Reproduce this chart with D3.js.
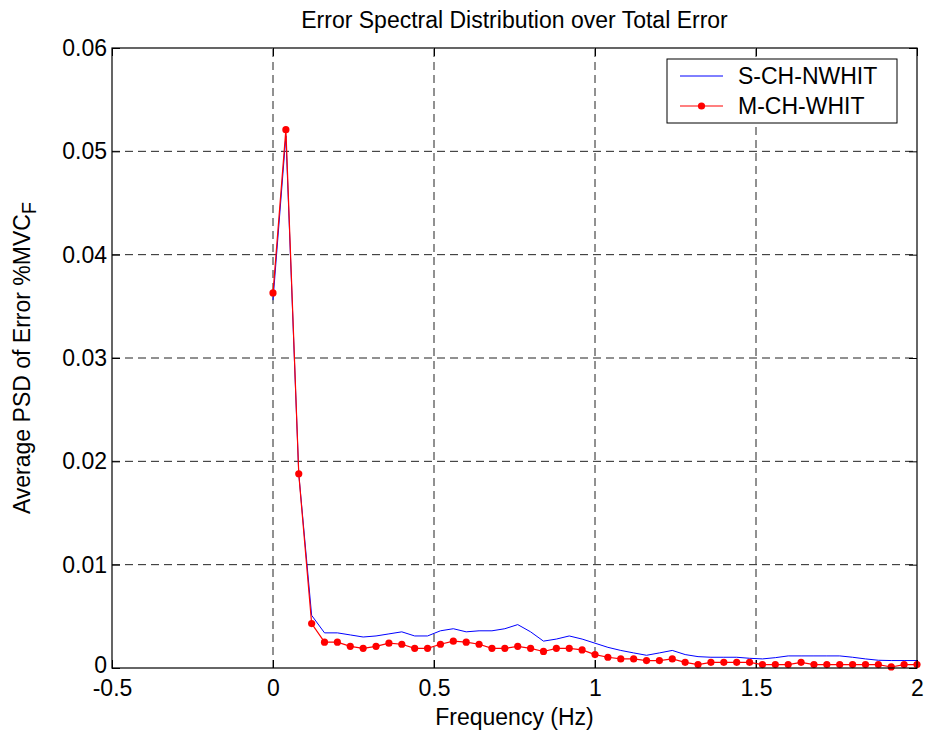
<!DOCTYPE html>
<html>
<head>
<meta charset="utf-8">
<script src="https://cdn.jsdelivr.net/npm/d3@7"></script>
<style>
  html, body { margin: 0; padding: 0; background: #fff; }
  svg { display: block; font-family: "Liberation Sans", Arial, sans-serif; }
</style>
</head>
<body>
<svg id="chart" width="927" height="735"></svg>
<script>
// Frequency bins (Hz), 0 to 2 in 0.04 steps
const freqs = [
  0.00, 0.04, 0.08, 0.12, 0.16, 0.20, 0.24, 0.28, 0.32, 0.36,
  0.40, 0.44, 0.48, 0.52, 0.56, 0.60, 0.64, 0.68, 0.72, 0.76,
  0.80, 0.84, 0.88, 0.92, 0.96, 1.00, 1.04, 1.08, 1.12, 1.16,
  1.20, 1.24, 1.28, 1.32, 1.36, 1.40, 1.44, 1.48, 1.52, 1.56,
  1.60, 1.64, 1.68, 1.72, 1.76, 1.80, 1.84, 1.88, 1.92, 1.96, 2.00
];

// Average PSD, single-channel, non-whitened
const sChNwhit = [
  0.0356, 0.0515, 0.0188, 0.0051, 0.0034, 0.0034, 0.0032, 0.0030, 0.0031, 0.0033,
  0.0035, 0.0031, 0.0031, 0.0036, 0.0038, 0.0035, 0.0036, 0.0036, 0.0038, 0.0042,
  0.0035, 0.0026, 0.0028, 0.0031, 0.0028, 0.0024, 0.0020, 0.0017, 0.00146, 0.00123,
  0.00146, 0.0017, 0.0013, 0.0011, 0.00104, 0.00104, 0.00104, 0.00094, 0.00088, 0.0010,
  0.00117, 0.00117, 0.00117, 0.00117, 0.00117, 0.00104, 0.00088, 0.00075, 0.00072, 0.00072, 0.00072
];

// Average PSD, multi-channel, whitened
const mChWhit = [
  0.0363, 0.0521, 0.0188, 0.0043, 0.0025, 0.0025, 0.0021, 0.0019, 0.0021, 0.0024,
  0.0023, 0.0019, 0.0019, 0.0023, 0.0026, 0.0025, 0.0023, 0.0019, 0.0019, 0.0021,
  0.0019, 0.0016, 0.0019, 0.0019, 0.00175, 0.0013, 0.00104, 0.00088, 0.00088, 0.00072,
  0.00072, 0.00088, 0.00055, 0.00033, 0.00055, 0.00055, 0.00055, 0.00055, 0.00033, 0.00033,
  0.00033, 0.00055, 0.00033, 0.00033, 0.00033, 0.00033, 0.00033, 0.00033, 0.0001, 0.00033, 0.00033
];

const xTicks = [-0.5, 0, 0.5, 1, 1.5, 2];
const xTickLabels = ["-0.5", "0", "0.5", "1", "1.5", "2"];
const yTicks = [0, 0.01, 0.02, 0.03, 0.04, 0.05, 0.06];
const yTickLabels = ["0", "0.01", "0.02", "0.03", "0.04", "0.05", "0.06"];
const seriesNames = ["S-CH-NWHIT", "M-CH-WHIT"];

const svg = d3.select("#chart");
const W = 927, H = 735;
const plot = { left: 112, right: 917, top: 48, bottom: 668 };
const fontSize = 23;

svg.append("rect").attr("width", W).attr("height", H).attr("fill", "#fff");

const x = d3.scaleLinear().domain([-0.5, 2]).range([plot.left, plot.right]);
const y = d3.scaleLinear().domain([0, 0.06]).range([plot.bottom, plot.top]);

// Dashed grid
const grid = svg.append("g").attr("stroke", "#222").attr("stroke-width", 1)
  .attr("stroke-dasharray", "8,5").attr("fill", "none");
xTicks.filter(t => t > -0.5 && t < 2).forEach(t => {
  grid.append("line").attr("x1", x(t)).attr("x2", x(t))
    .attr("y1", plot.bottom).attr("y2", plot.top);
});
yTicks.filter(t => t > 0 && t < 0.06).forEach(t => {
  grid.append("line").attr("x1", plot.left).attr("x2", plot.right)
    .attr("y1", y(t)).attr("y2", y(t));
});

// Axes with inward ticks on all four sides
const tickLen = 8;
const fmtX = (d, i) => xTickLabels[i];
const fmtY = (d, i) => yTickLabels[i];

const axB = svg.append("g").attr("transform", `translate(0,${plot.bottom})`)
  .call(d3.axisBottom(x).tickValues(xTicks).tickFormat(fmtX).tickSizeInner(-tickLen).tickSizeOuter(0).tickPadding(12));
const axT = svg.append("g").attr("transform", `translate(0,${plot.top})`)
  .call(d3.axisTop(x).tickValues(xTicks).tickFormat("").tickSizeInner(-tickLen).tickSizeOuter(0));
const axL = svg.append("g").attr("transform", `translate(${plot.left},0)`)
  .call(d3.axisLeft(y).tickValues(yTicks).tickFormat(fmtY).tickSizeInner(-tickLen).tickSizeOuter(0).tickPadding(5));
const axR = svg.append("g").attr("transform", `translate(${plot.right},0)`)
  .call(d3.axisRight(y).tickValues(yTicks).tickFormat("").tickSizeInner(-tickLen).tickSizeOuter(0));

[axB, axT, axL, axR].forEach(a => {
  a.select(".domain").remove();
  a.selectAll("line").attr("stroke", "#000").attr("stroke-width", 1);
  a.selectAll("text").attr("fill", "#000").style("font-size", fontSize + "px")
    .style("font-family", "'Liberation Sans', Arial, sans-serif");
});
axB.selectAll("text").attr("dy", "0.71em");
// the y-axis "0" sits just above the corner so it clears the "-0.5" below it
axL.selectAll("text").filter(d => d === 0).attr("dy", "0.2em");

// Series
const line = d3.line().x((d, i) => x(freqs[i])).y(d => y(d));
svg.append("path").datum(sChNwhit).attr("d", line)
  .attr("fill", "none").attr("stroke", "#0000ff").attr("stroke-width", 1);
svg.append("path").datum(mChWhit).attr("d", line)
  .attr("fill", "none").attr("stroke", "#ff0000").attr("stroke-width", 1.2);
svg.append("g").selectAll("circle").data(mChWhit).join("circle")
  .attr("cx", (d, i) => x(freqs[i])).attr("cy", d => y(d)).attr("r", 3.6)
  .attr("fill", "#ff0000");

// Plot frame
svg.append("rect").attr("x", plot.left).attr("y", plot.top)
  .attr("width", plot.right - plot.left).attr("height", plot.bottom - plot.top)
  .attr("fill", "none").attr("stroke", "#000").attr("stroke-width", 1.2);

// Title and axis labels
svg.append("text").attr("x", (plot.left + plot.right) / 2).attr("y", 28)
  .attr("text-anchor", "middle").style("font-size", fontSize + "px").attr("fill", "#000")
  .text("Error Spectral Distribution over Total Error");

svg.append("text").attr("x", (plot.left + plot.right) / 2).attr("y", 725)
  .attr("text-anchor", "middle").style("font-size", fontSize + "px").attr("fill", "#000")
  .text("Frequency (Hz)");

const yl = svg.append("text")
  .attr("transform", `translate(30,${(plot.top + plot.bottom) / 2}) rotate(-90)`)
  .attr("text-anchor", "middle").style("font-size", fontSize + "px").attr("fill", "#000");
yl.append("tspan").text("Average PSD of Error %MVC");
yl.append("tspan").attr("dy", "0.3em").style("font-size", "20px").text("F");

// Legend
const lg = svg.append("g");
lg.append("rect").attr("x", 667).attr("y", 59).attr("width", 230).attr("height", 64)
  .attr("fill", "#fff").attr("stroke", "#000").attr("stroke-width", 1);
const rows = [76, 106];
lg.append("line").attr("x1", 680).attr("x2", 723).attr("y1", rows[0]).attr("y2", rows[0])
  .attr("stroke", "#0000ff").attr("stroke-width", 1);
lg.append("line").attr("x1", 680).attr("x2", 723).attr("y1", rows[1]).attr("y2", rows[1])
  .attr("stroke", "#ff0000").attr("stroke-width", 1.2);
lg.append("circle").attr("cx", 701.5).attr("cy", rows[1]).attr("r", 3.6).attr("fill", "#ff0000");
seriesNames.forEach((n, i) => {
  lg.append("text").attr("x", 738).attr("y", rows[i]).attr("dy", "0.36em")
    .style("font-size", fontSize + "px").attr("fill", "#000").text(n);
});
</script>
</body>
</html>
